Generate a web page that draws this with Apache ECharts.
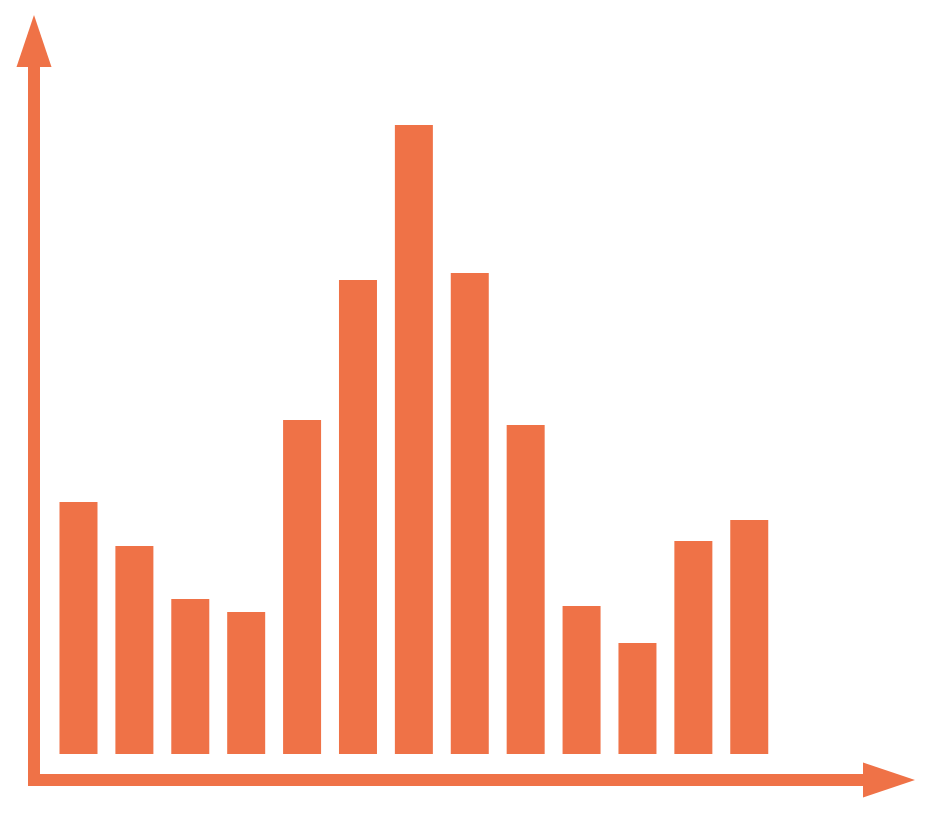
<!DOCTYPE html>
<html>
<head>
<meta charset="utf-8">
<script src="https://cdn.jsdelivr.net/npm/echarts@6/dist/echarts.min.js"></script>
<style>html,body{margin:0;padding:0;background:#fff}#c{width:930px;height:816px}</style>
</head>
<body>
<div id="c"></div>
<script>
// Data
const positions = [1, 2, 3, 4, 5, 6, 7, 8, 9, 10, 11, 12, 13];
const values = [25.2, 20.8, 15.5, 14.2, 33.4, 47.4, 62.9, 48.1, 32.9, 14.8, 11.1, 21.3, 23.4];

const color = '#EF7247';
const chart = echarts.init(document.getElementById('c'));
const axisLine = {
  show: true,
  onZero: false,
  symbol: ['none', 'triangle'],
  symbolSize: [35, 52],
  lineStyle: { color: color, width: 12, cap: 'square' }
};
chart.setOption({
  animation: false,
  backgroundColor: '#ffffff',
  grid: { left: 34, right: 41, top: 41, bottom: 36 },
  xAxis: {
    type: 'value',
    min: 0.204,
    max: 15.5,
    axisLine: axisLine,
    axisTick: { show: false },
    axisLabel: { show: false },
    splitLine: { show: false }
  },
  yAxis: {
    type: 'value',
    min: -2.6,
    max: 71.3,
    axisLine: axisLine,
    axisTick: { show: false },
    axisLabel: { show: false },
    splitLine: { show: false }
  },
  series: [{
    type: 'bar',
    barWidth: 38,
    itemStyle: { color: color },
    data: positions.map((p, i) => [p, values[i]])
  }]
});
</script>
</body>
</html>
